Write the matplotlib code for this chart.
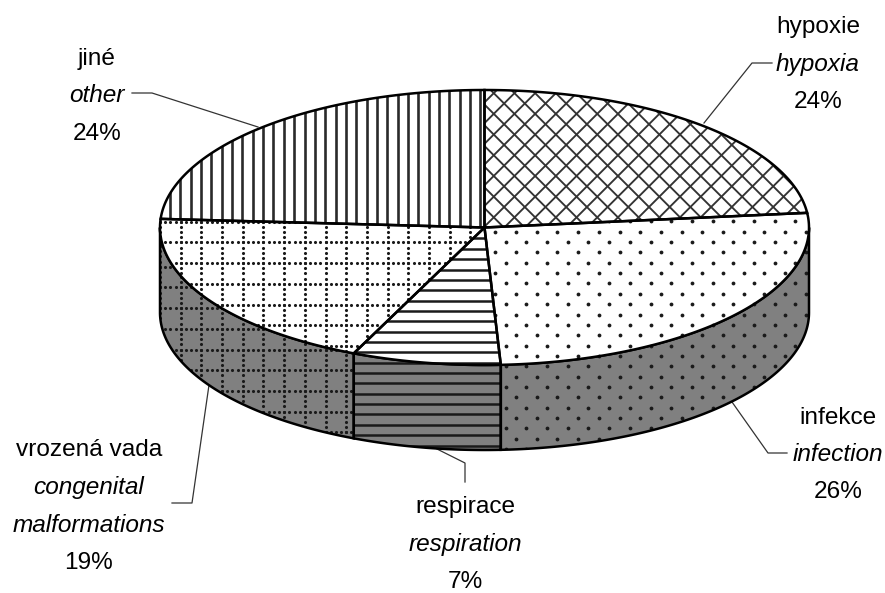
import numpy as np
import matplotlib
matplotlib.use('Agg')
import matplotlib.pyplot as plt
from matplotlib.patches import Polygon
from matplotlib.collections import LineCollection

plt.rcParams['font.family'] = ['Liberation Sans', 'DejaVu Sans']

names_cs = ['hypoxie', 'infekce', 'respirace', 'vrozená vada', 'jiné']
names_en = ['hypoxia', 'infection', 'respiration', 'congenital\nmalformations', 'other']
percent_labels = ['24%', '26%', '7%', '19%', '24%']
# slice sizes (the printed labels are rounded)
shares = [23.3, 25.9, 7.4, 19.4, 24.0]
patterns = ['cross', 'dots', 'hlines', 'dotgrid', 'vlines']

W, H = 885, 593
CX, CY, RX, RY = 484.5, 227.5, 324.5, 137.5
DEPTH = 85
LW = 1.8
STEP = 20.7
HATCH = '#1a1a1a'
FS = 17.6

fig = plt.figure(figsize=(W / 100, H / 100), dpi=100)
ax = fig.add_axes([0, 0, 1, 1])
ax.set_xlim(0, W)
ax.set_ylim(H, 0)
ax.axis('off')


def ell(a, dy=0):
    a = np.radians(a)
    return np.column_stack([CX + RX * np.sin(a), CY + dy - RY * np.cos(a)])


def add_pattern(kind, clip, zorder, side=False):
    if kind == 'vlines':
        segs = [[(x, 0), (x, H)] for x in np.arange(170, W, STEP / 2)]
        art = ax.add_collection(LineCollection(segs, colors='#2a2a2a', linewidths=1.9, zorder=zorder))
    elif kind == 'hlines':
        segs = [[(0, y), (W, y)] for y in np.arange(0.45, H, STEP / 2)]
        art = ax.add_collection(LineCollection(segs, colors='#1a1a1a', linewidths=1.8, zorder=zorder))
    elif kind == 'cross':
        segs = []
        for c in np.arange(-H, W + H, STEP):
            segs.append([(c, 0), (c + H, H)])
            segs.append([(c, 0), (c - H, H)])
        art = ax.add_collection(LineCollection(segs, colors='#333333', linewidths=1.35, zorder=zorder))
    elif kind == 'dots':
        xs, ys = [], []
        for i, y in enumerate(np.arange(4, H, STEP / 2)):
            for x in np.arange(-1.5, W + STEP, STEP):
                xs.append(x + (STEP / 2 if i % 2 else 0))
                ys.append(y)
        art = ax.scatter(xs, ys, s=7.5, c=HATCH, linewidths=0, zorder=zorder)
    else:
        y0 = 18.3 if side else 14.7
        xs, ys = [], []
        for y in np.arange(y0, H, STEP):
            for x in np.arange(15.1, W, STEP / 4):
                xs.append(x)
                ys.append(y)
        for x in np.arange(15.1, W, STEP):
            for y in np.arange(y0, H, STEP / 4):
                xs.append(x)
                ys.append(y)
        art = ax.scatter(xs, ys, s=5, c=HATCH, linewidths=0, zorder=zorder)
    art.set_clip_path(clip)


edges = np.cumsum([0] + shares) * 3.6

# side wall first, only the front half of the pie shows it
for i, kind in enumerate(patterns):
    a0, a1 = max(edges[i], 90), min(edges[i + 1], 270)
    if a1 <= a0:
        continue
    t = np.linspace(a0, a1, 120)
    pts = np.vstack([ell(t), ell(t[::-1], DEPTH)])
    p = Polygon(pts, closed=True, facecolor='#808080', edgecolor='none', zorder=1)
    ax.add_patch(p)
    add_pattern(kind, p, 2, side=True)
    ax.add_patch(Polygon(pts, closed=True, fill=False, edgecolor='black', linewidth=LW, zorder=3))

# top face
for i, kind in enumerate(patterns):
    t = np.linspace(edges[i], edges[i + 1], 200)
    pts = np.vstack([[(CX, CY)], ell(t)])
    p = Polygon(pts, closed=True, facecolor='white', edgecolor='none', zorder=4)
    ax.add_patch(p)
    add_pattern(kind, p, 5)
    ax.add_patch(Polygon(pts, closed=True, fill=False, edgecolor='black', linewidth=LW, zorder=6))

# leader lines
leaders = [
    ([772, 752, 704], [63, 63, 123]),
    ([787, 768, 732], [453, 453, 402]),
    ([465, 465, 433], [482, 463, 447]),
    ([172, 192, 209], [503, 503, 385]),
    ([132, 152, 258], [93, 93, 127]),
]
for xs, ys in leaders:
    ax.plot(xs, ys, color='#333333', lw=0.9, zorder=0)

# labels: centre x and baseline of the first line
label_pos = [(818, 33.5), (838, 423.5), (465, 513.5), (89, 456.5), (97, 64.5)]
line_h = 37.5
for i in range(5):
    x, y = label_pos[i]
    ax.text(x, y, names_cs[i], ha='center', va='baseline', fontsize=FS, color='black')
    lines = names_en[i].split('\n')
    for j, line in enumerate(lines):
        ax.text(x, y + line_h * (j + 1), line, ha='center', va='baseline', fontsize=FS,
                style='italic', color='black')
    ax.text(x, y + line_h * (len(lines) + 1), percent_labels[i], ha='center', va='baseline',
            fontsize=FS, color='black')

fig.savefig('out.png', dpi=100)
